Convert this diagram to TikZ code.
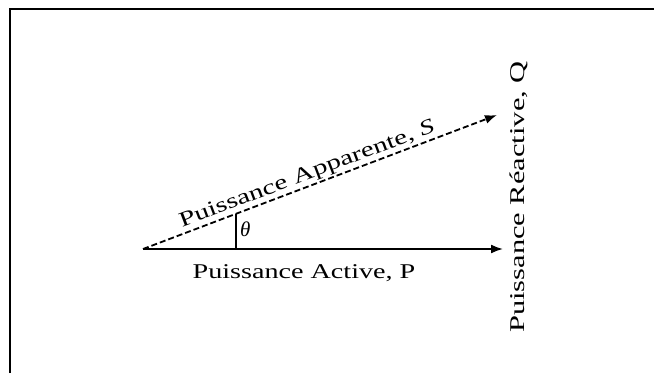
\documentclass[tikz,border=0pt]{standalone}
\usepackage{fontspec}
\setmainfont{Liberation Serif}
\usetikzlibrary{arrows.meta}
\begin{document}
\begin{tikzpicture}[x=1pt,y=1pt,
  vec/.style={line width=1.8pt,-{Latex[length=12pt,width=9pt]}},
  lbl/.style={font=\fontsize{21}{23}\selectfont,inner sep=1pt}]
\useasboundingbox (0,0) rectangle (654,373);
\draw[line width=2pt] (10,0) -- (10,364) -- (654,364);
\coordinate (O) at (143,124);
\coordinate (P) at (503,124);
\coordinate (S) at (497,258);
\coordinate (Mb) at (236,124);
\coordinate (Mt) at (236,159);
\draw[vec] (O) -- (P);
\draw[vec,dashed,dash pattern=on 6pt off 3pt] (O) -- (S)
  node[lbl,pos=0.475,sloped,above=0pt] (ls) {\scalebox{1.38}[1]{Puissance Apparente, \textit{S}}};
\draw[line width=1.8pt] (Mb) -- (Mt);
\node[lbl,anchor=west] (th) at (239,144) {\textit{θ}};
\node[lbl,anchor=base] (lp) at (304,95) {\scalebox{1.34}[1]{Puissance Active, P}};
\node[lbl,rotate=90] (lq) at (519,176) {\scalebox{1.45}[1]{Puissance Réactive, Q}};
\end{tikzpicture}
\end{document}
